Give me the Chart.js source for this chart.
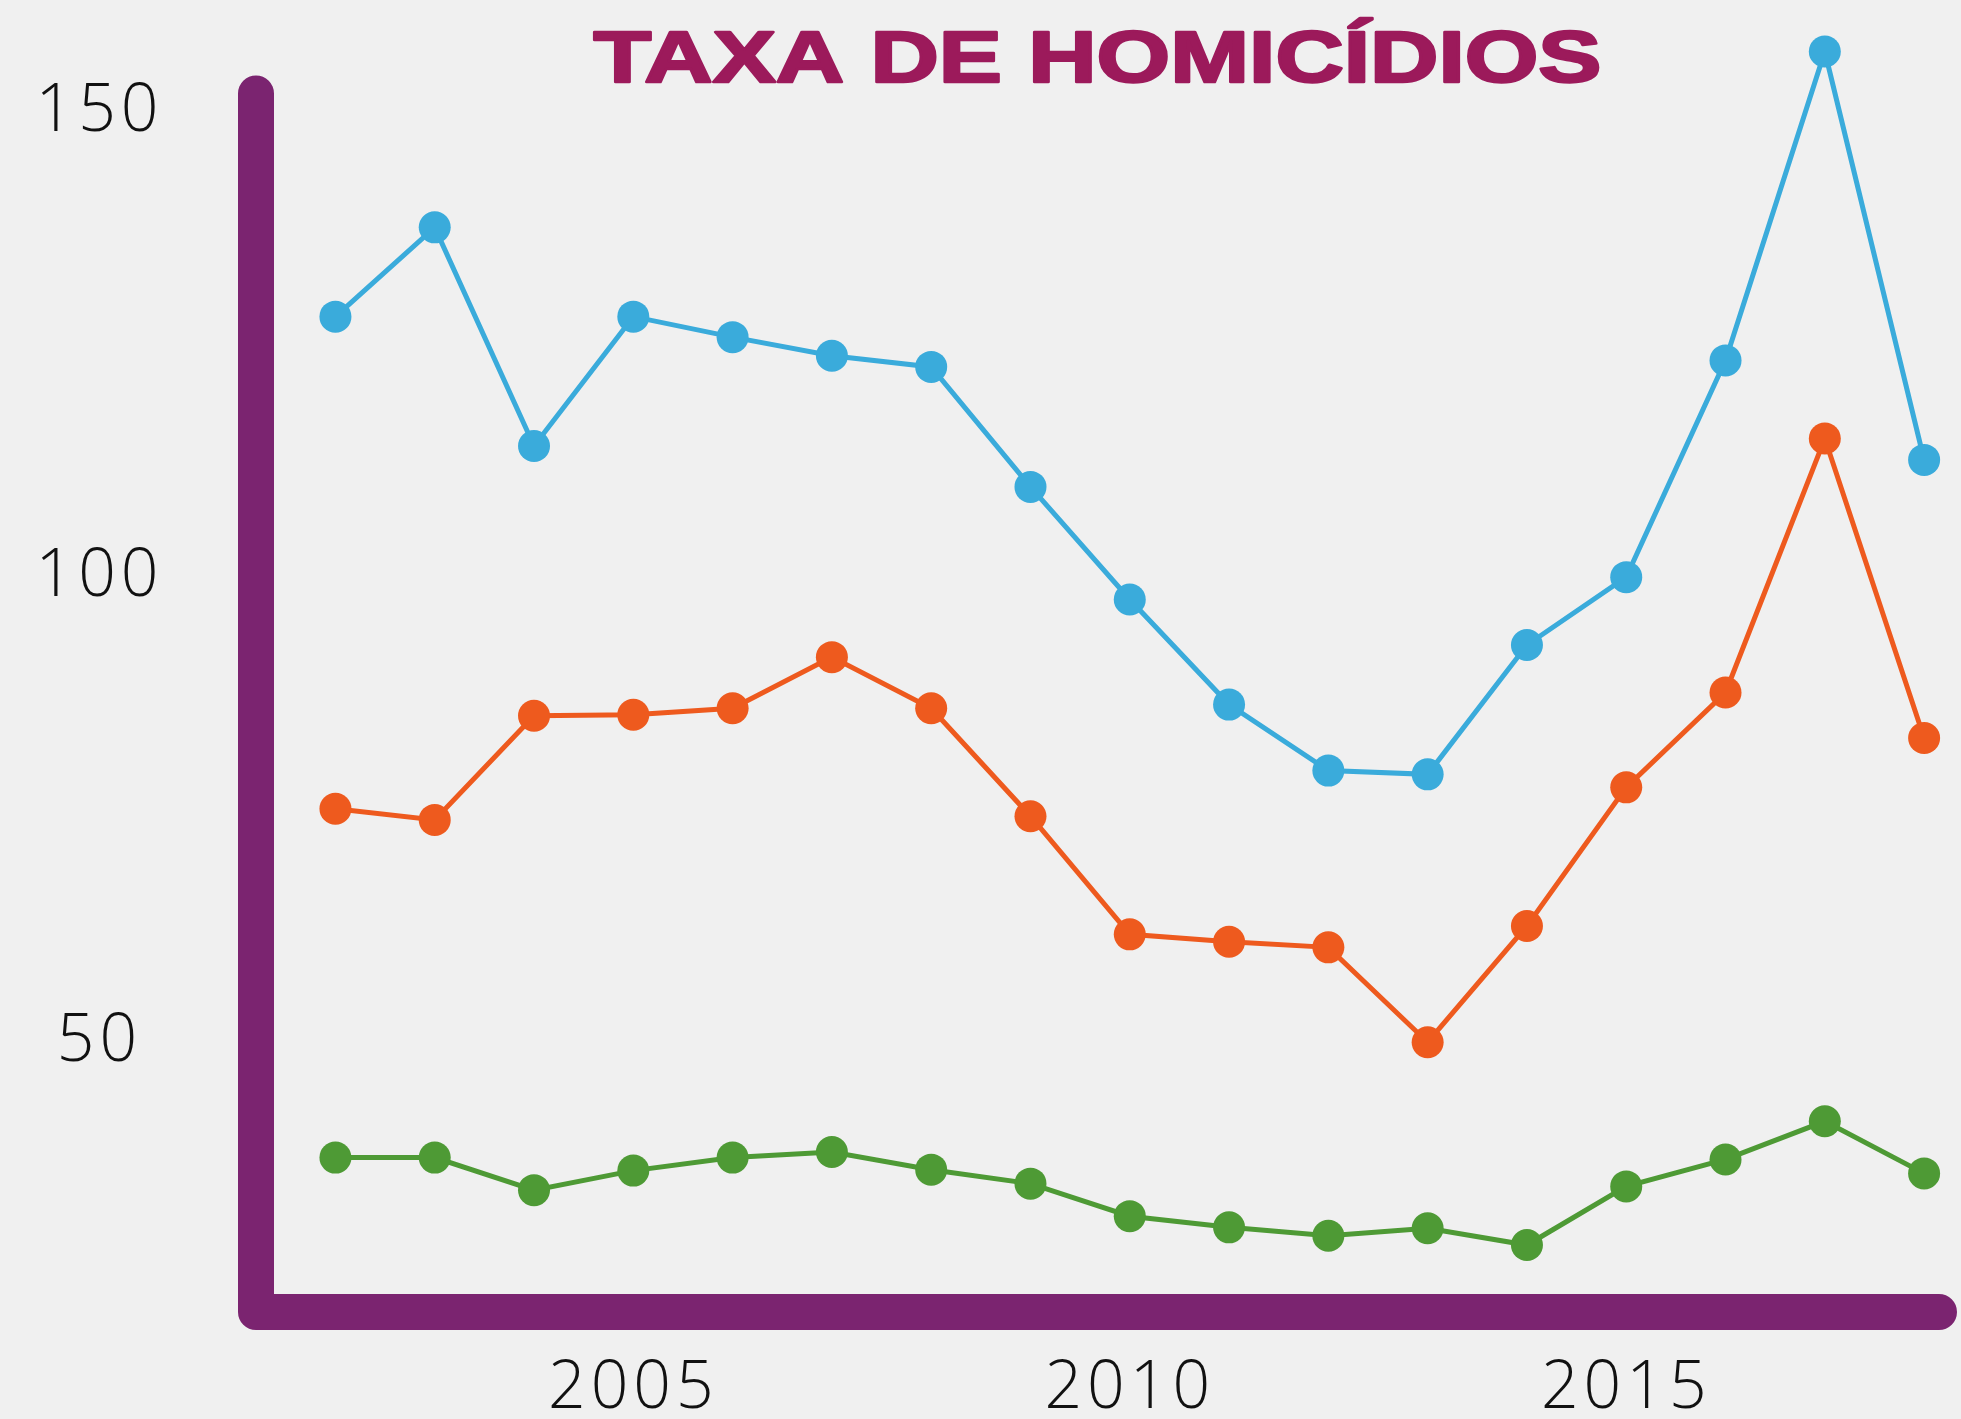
<!DOCTYPE html>
<html lang="pt">
<head>
    <meta charset="UTF-8">
    <title>Taxa de homicídios</title>
    <style>
        body {
            margin: 0;
            background-color: #f0f0f0;
        }
        #wrap {
            width: 1961px;
            height: 1419px;
        }
    </style>
    <script src="https://cdn.jsdelivr.net/npm/chart.js"></script>
</head>
<body>
    <div id="wrap">
        <canvas id="homicideChart" width="1961" height="1419"></canvas>
    </div>
    <script>
        // data
        const years = [2002, 2003, 2004, 2005, 2006, 2007, 2008, 2009, 2010, 2011, 2012, 2013, 2014, 2015, 2016, 2017, 2018];
        const blueSeries = [128.0, 137.6, 114.1, 128.0, 125.8, 123.8, 122.6, 109.7, 97.6, 86.3, 79.2, 78.8, 92.7, 100.0, 123.3, 156.5, 112.6];
        const orangeSeries = [75.1, 73.9, 85.1, 85.2, 85.9, 91.4, 85.9, 74.3, 61.6, 60.8, 60.2, 50.0, 62.5, 77.4, 87.6, 114.9, 82.7];
        const greenSeries = [37.6, 37.6, 34.1, 36.2, 37.6, 38.2, 36.3, 34.8, 31.3, 30.1, 29.2, 30.0, 28.2, 34.5, 37.4, 41.5, 35.9];
        const xTicks = [2005, 2010, 2015];
        const yTicks = [50, 100, 150];
        const titleText = 'TAXA DE HOMICÍDIOS';

        const yMin = 21, yMax = 160, yAxisTop = 152;
        const xMin = 2001.2, xMax = 2018.15;

        const toPoints = arr => arr.map((v, i) => ({ x: years[i], y: v }));

        // wider digit spacing for the tick labels
        const spacing = {
            id: 'spacing',
            beforeInit(chart) { chart.ctx.letterSpacing = '5px'; },
            beforeDraw(chart) { chart.ctx.letterSpacing = '5px'; }
        };

        // thick rounded axis lines
        const axisLines = {
            id: 'axisLines',
            beforeDatasetsDraw(chart) {
                const { ctx, chartArea, scales } = chart;
                ctx.save();
                ctx.strokeStyle = '#7b2470';
                ctx.lineWidth = 36;
                ctx.lineCap = 'round';
                ctx.lineJoin = 'round';
                ctx.beginPath();
                ctx.moveTo(chartArea.left, scales.y.getPixelForValue(yAxisTop));
                ctx.lineTo(chartArea.left, chartArea.bottom);
                ctx.lineTo(chartArea.right, chartArea.bottom);
                ctx.stroke();
                ctx.restore();
            }
        };

        // wide title, stretched horizontally
        const wideTitle = {
            id: 'wideTitle',
            afterDraw(chart) {
                const { ctx, chartArea } = chart;
                ctx.save();
                ctx.letterSpacing = '0px';
                ctx.font = 'bold 72px "Liberation Sans", Arial, sans-serif';
                ctx.fillStyle = '#9c1a5b';
                ctx.strokeStyle = '#9c1a5b';
                ctx.lineWidth = 2.5;
                ctx.lineJoin = 'round';
                ctx.textBaseline = 'alphabetic';
                const w = ctx.measureText(titleText).width;
                const targetW = 1008;
                const cx = (chartArea.left + chartArea.right) / 2;
                ctx.translate(cx - targetW / 2, 82);
                ctx.scale(targetW / w, 1);
                ctx.fillText(titleText, 0, 0);
                ctx.strokeText(titleText, 0, 0);
                ctx.restore();
            }
        };

        const tickFont = { family: '"Open Sans", "Noto Sans", sans-serif', size: 66, weight: 300 };

        const ctx = document.getElementById('homicideChart').getContext('2d');
        new Chart(ctx, {
            type: 'line',
            data: {
                datasets: [
                    {
                        label: 'verde',
                        data: toPoints(greenSeries),
                        borderColor: '#4e9a35',
                        backgroundColor: '#4e9a35'
                    },
                    {
                        label: 'laranja',
                        data: toPoints(orangeSeries),
                        borderColor: '#ee5a1e',
                        backgroundColor: '#ee5a1e'
                    },
                    {
                        label: 'azul',
                        data: toPoints(blueSeries),
                        borderColor: '#3aabdb',
                        backgroundColor: '#3aabdb'
                    }
                ]
            },
            options: {
                responsive: false,
                animation: false,
                clip: false,
                layout: {
                    padding: { left: 0, right: 22, top: 19, bottom: 0 }
                },
                elements: {
                    line: { borderWidth: 5, tension: 0 },
                    point: { radius: 16, borderWidth: 0, hoverRadius: 16 }
                },
                plugins: {
                    legend: { display: false },
                    tooltip: { enabled: false },
                    title: { display: false }
                },
                scales: {
                    x: {
                        type: 'linear',
                        min: xMin,
                        max: xMax,
                        grid: { display: false, drawTicks: false },
                        border: { display: false },
                        afterBuildTicks: scale => { scale.ticks = xTicks.map(v => ({ value: v })); },
                        afterFit: scale => {
                            scale.height = 107;
                            scale.paddingLeft = 0;
                            scale.paddingRight = 0;
                        },
                        ticks: {
                            font: tickFont,
                            color: '#111',
                            padding: 38,
                            maxRotation: 0,
                            callback: v => String(v)
                        }
                    },
                    y: {
                        min: yMin,
                        max: yMax,
                        grid: { display: false, drawTicks: false },
                        border: { display: false },
                        afterBuildTicks: scale => { scale.ticks = yTicks.map(v => ({ value: v })); },
                        afterFit: scale => {
                            scale.width = 256;
                            scale.paddingTop = 0;
                            scale.paddingBottom = 0;
                        },
                        ticks: {
                            font: tickFont,
                            color: '#111',
                            padding: 100,
                            crossAlign: 'center'
                        }
                    }
                }
            },
            plugins: [spacing, axisLines, wideTitle]
        });
    </script>
</body>
</html>
